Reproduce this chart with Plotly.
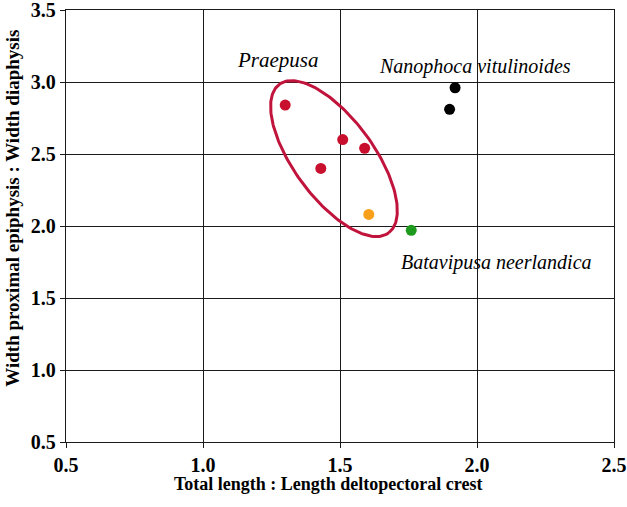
import numpy as np
import plotly.graph_objects as go

# Data
praepusa_x = [1.30, 1.51, 1.59, 1.43]
praepusa_y = [2.84, 2.60, 2.54, 2.40]
orange_x = [1.605]
orange_y = [2.08]
batavipusa_x = [1.76]
batavipusa_y = [1.97]
nanophoca_x = [1.92, 1.90]
nanophoca_y = [2.96, 2.81]

x_ticks = [0.5, 1.0, 1.5, 2.0, 2.5]
y_ticks = [0.5, 1.0, 1.5, 2.0, 2.5, 3.0, 3.5]

# Ellipse around Praepusa (data units)
ell_center = (1.478, 2.468)
ell_axis1 = (0.200, -0.515)
ell_axis2 = (0.116, 0.167)

t = np.linspace(0, 2 * np.pi, 200)
ex = ell_center[0] + ell_axis1[0] * np.cos(t) + ell_axis2[0] * np.sin(t)
ey = ell_center[1] + ell_axis1[1] * np.cos(t) + ell_axis2[1] * np.sin(t)

fig = go.Figure()
fig.add_trace(go.Scatter(x=ex, y=ey, mode="lines",
                         line=dict(color="#C0143C", width=3), hoverinfo="skip"))
fig.add_trace(go.Scatter(x=praepusa_x, y=praepusa_y, mode="markers",
                         marker=dict(color="#C8102E", size=11)))
fig.add_trace(go.Scatter(x=orange_x, y=orange_y, mode="markers",
                         marker=dict(color="#F9A01B", size=11)))
fig.add_trace(go.Scatter(x=batavipusa_x, y=batavipusa_y, mode="markers",
                         marker=dict(color="#1E9B1E", size=11)))
fig.add_trace(go.Scatter(x=nanophoca_x, y=nanophoca_y, mode="markers",
                         marker=dict(color="black", size=11)))

serif = "Liberation Serif, Times New Roman, serif"
labels = [
    ("Praepusa", 1.275, 3.153, 21),
    ("Nanophoca vitulinoides", 1.991, 3.111, 20),
    ("Batavipusa neerlandica", 2.071, 1.75, 20),
]
for txt, lx, ly, fs in labels:
    fig.add_annotation(x=lx, y=ly, text=f"<i>{txt}</i>", showarrow=False,
                       font=dict(family=serif, size=fs, color="black"))

fig.add_annotation(xref="paper", yref="paper", x=0.478, y=-0.097,
                   text="<b>Total length : Length deltopectoral crest</b>",
                   showarrow=False, xanchor="center", yanchor="middle",
                   font=dict(family=serif, size=18, color="black"))
fig.add_annotation(xref="paper", yref="paper", x=-0.097, y=0.542,
                   text="<b>Width proximal epiphysis : Width diaphysis</b>",
                   showarrow=False, xanchor="center", yanchor="middle",
                   textangle=-90,
                   font=dict(family=serif, size=19, color="black"))

fig.update_layout(
    width=627, height=507,
    margin=dict(l=66, r=13, t=10, b=65),
    plot_bgcolor="white", paper_bgcolor="white",
    showlegend=False,
    font=dict(family=serif, color="black"),
)
axis_common = dict(
    showgrid=True, gridcolor="#1a1a1a", gridwidth=1.3,
    showline=True, linecolor="#1a1a1a", linewidth=1.3, mirror=True,
    ticks="outside", ticklen=5, tickcolor="#1a1a1a",
    zeroline=False, automargin=False, ticklabeloverflow="allow",
    tickfont=dict(family=serif, size=20, color="black"),
)
fig.update_xaxes(range=[0.5, 2.5], tickvals=x_ticks,
                 ticktext=[f"<b>{v:.1f}</b>" for v in x_ticks], **axis_common)
fig.update_yaxes(range=[0.5, 3.5], tickvals=y_ticks,
                 ticktext=[f"<b>{v:.1f}</b>" for v in y_ticks], **axis_common)

fig.write_html("out.html", config={"displayModeBar": False},
               post_script="document.body.style.margin='0';")
